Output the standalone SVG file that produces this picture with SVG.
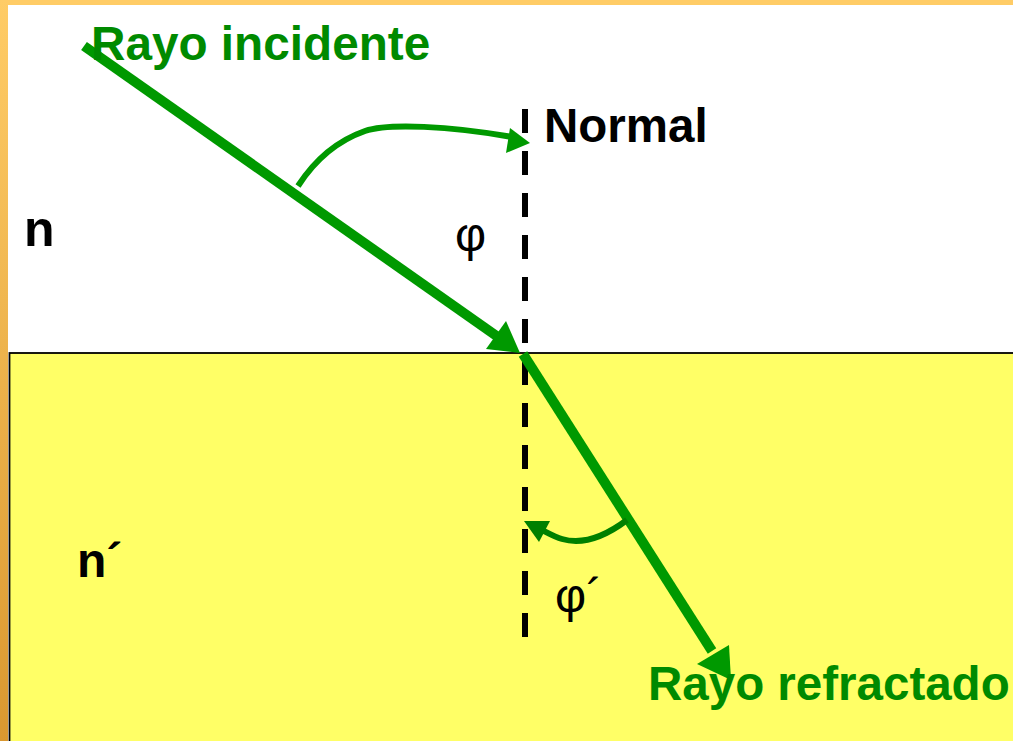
<svg xmlns="http://www.w3.org/2000/svg" width="1013" height="741" viewBox="0 0 1013 741">
<defs>
<linearGradient id="lb" x1="0" y1="0" x2="0" y2="1">
<stop offset="0" stop-color="#FFCC66"/>
<stop offset="1" stop-color="#DA9830"/>
</linearGradient>
<style>
.lbl{font-family:"Liberation Sans",Arial,sans-serif;font-weight:bold;}
.sym{font-family:"Liberation Sans",Arial,sans-serif;}
.g{fill:#008A00;}
.k{fill:#000;}
.ray{stroke:#009900;stroke-width:10;fill:none;}
.arc{stroke-width:6;fill:none;stroke-linecap:butt;}
</style>
</defs>
<rect x="0" y="0" width="1013" height="741" fill="#ffffff"/>
<rect x="0" y="0" width="1013" height="5" fill="#FFCC66"/>
<rect x="0" y="0" width="8" height="741" fill="url(#lb)"/>
<g id="medium2">
<rect x="9.5" y="353" width="1010" height="400" fill="#FFFF66" stroke="#000" stroke-width="1.8"/>
</g>
<g id="connectors">
<line id="normal" x1="525" y1="109" x2="525" y2="637" stroke="#000" stroke-width="6" stroke-dasharray="24 18"/>
<line class="ray" x1="84" y1="46" x2="498" y2="337"/>
<polygon points="520,353 486,349 506,321" fill="#009900"/>
<line class="ray" x1="523" y1="354" x2="712" y2="651"/>
<polygon points="731,680 697,664 729,645" fill="#009900"/>
<path class="arc" d="M298,186 C320,152 345,138 365,131 C388,123 450,126 512,137" stroke="#009900"/>
<polygon points="530,143 510,128 506,153" fill="#009900"/>
<path class="arc" d="M627,520 C603,538 582,545 562,539 C555,537 548,533 542,530" stroke="#008000"/>
<polygon points="524,521 550,521 539,542" fill="#008000"/>
</g>
<g id="labels">
<text class="lbl g" x="91" y="60" font-size="47.7">Rayo incidente</text>
<text class="lbl k" x="544" y="142" font-size="47.5">Normal</text>
<text class="lbl k" x="24" y="246" font-size="50">n</text>
<text class="sym k" x="455" y="251" font-size="48">φ</text>
<text class="lbl k" x="77" y="577" font-size="48">n´</text>
<text class="sym k" x="555" y="612" font-size="48">φ´</text>
<text class="lbl g" x="648" y="700" font-size="47.5">Rayo refractado</text>
</g>
</svg>
